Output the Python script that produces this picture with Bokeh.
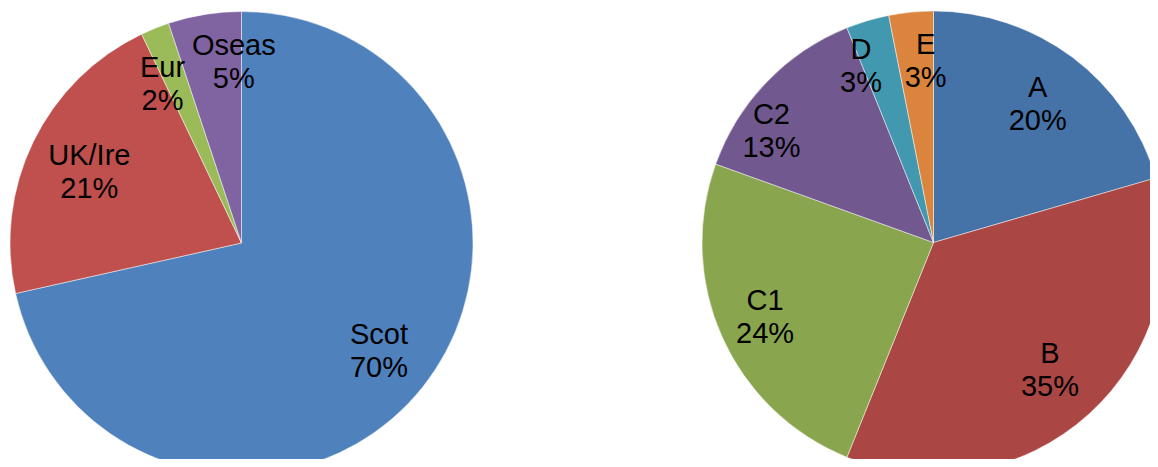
import math
from bokeh.plotting import figure
from bokeh.models import Range1d, ColumnDataSource
from bokeh.core.properties import value
from bokeh.embed import file_html
from bokeh.resources import INLINE

# ---- data ----
left_names = ["Scot", "UK/Ire", "Eur", "Oseas"]
left_values = [71.5, 21.4, 2.0, 5.1]
left_pct_labels = ["70%", "21%", "2%", "5%"]
left_colors = ["#4F81BD", "#C0504D", "#9BBB59", "#8064A2"]

right_names = ["A", "B", "C1", "C2", "D", "E"]
right_values = [20.5, 35.6, 24.4, 13.4, 3.0, 3.1]
right_pct_labels = ["20%", "35%", "24%", "13%", "3%", "3%"]
right_colors = ["#4572A7", "#AA4643", "#89A54E", "#71588F", "#4198AF", "#DB843D"]

# ---- layout (pixel-like data units; y up) ----
W, H = 1150, 459
R = 231.5
left_center = (241, 467 - 242.5)
right_center = (933, 467 - 242)
label_frac = 0.75
# label nudges in pixels (dx right, dy down)
left_nudge = [(2, -1), (4, 4), (-14, 2), (20, -10)]
right_nudge = [(0, 0), (0, -2), (-10, 3), (-37, 8), (-23, -11), (9, -9)]
FONT = "Liberation Sans"
FSIZE = "29px"
HALF_LINE = 16.5

p = figure(width=W, height=H, output_backend="svg", toolbar_location=None,
           x_range=Range1d(0, W), y_range=Range1d(467 - H, 467),
           min_border=0, border_fill_color="white", background_fill_color="white")
p.axis.visible = False
p.grid.visible = False
p.outline_line_color = None


def draw_pie(center, names, values, pct_labels, colors, nudges):
    total = float(sum(values))
    starts, ends, lx, ly = [], [], [], []
    cum = 0.0
    for v, (ndx, ndy) in zip(values, nudges):
        f0 = cum / total
        cum += v
        f1 = cum / total
        # clockwise from 12 o'clock
        starts.append(math.pi / 2 - 2 * math.pi * f1)
        ends.append(math.pi / 2 - 2 * math.pi * f0)
        mid = 2 * math.pi * (f0 + f1) / 2
        lx.append(center[0] + label_frac * R * math.sin(mid) + ndx)
        ly.append(center[1] + label_frac * R * math.cos(mid) - ndy)
    src = ColumnDataSource(dict(start=starts, end=ends, color=colors,
                                name=names, pct=pct_labels,
                                ny=[y + HALF_LINE for y in ly],
                                py=[y - HALF_LINE for y in ly], lx=lx))
    p.wedge(x=center[0], y=center[1], radius=R, start_angle="start", end_angle="end",
            direction="anticlock", fill_color="color", line_color="white",
            line_width=0.6, line_alpha=0.8, source=src)
    for col in ("name", "pct"):
        p.text(x="lx", y="ny" if col == "name" else "py", text=col, source=src,
               text_align="center", text_baseline="middle",
               text_font=value(FONT), text_font_size=FSIZE, text_color="black")


draw_pie(left_center, left_names, left_values, left_pct_labels, left_colors, left_nudge)
draw_pie(right_center, right_names, right_values, right_pct_labels, right_colors, right_nudge)

open("out.html", "w").write(file_html(p, INLINE))
